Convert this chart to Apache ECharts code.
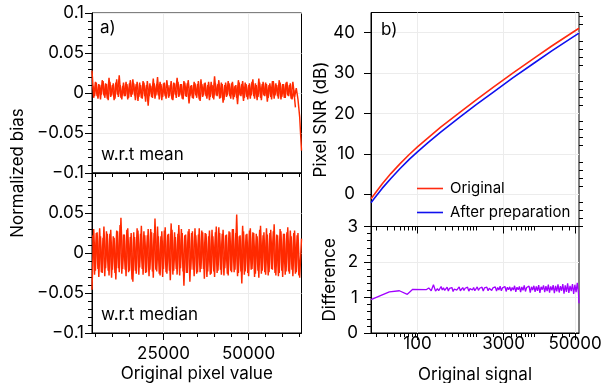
<!DOCTYPE html>
<html><head><meta charset="utf-8">
<script src="https://cdn.jsdelivr.net/npm/echarts@6/dist/echarts.min.js"></script>
<style>html,body{margin:0;padding:0;background:#fff}#c{width:610px;height:383px}</style>
</head><body><div id="c"></div>
<script>
// ---- data ----
// bias samples at pixel values 4000, 4500, ... (set A) and 4250, 4750, ... (set B)
const biasX = [4000,4500,5000,5500,6000,6500,7000,7500,8000,8500,
9000,9500,10000,10500,11000,11500,12000,12500,13000,13500,
14000,14500,15000,15500,16000,16500,17000,17500,18000,18500,
19000,19500,20000,20500,21000,21500,22000,22500,23000,23500,
24000,24500,25000,25500,26000,26500,27000,27500,28000,28500,
29000,29500,30000,30500,31000,31500,32000,32500,33000,33500,
34000,34500,35000,35500,36000,36500,37000,37500,38000,38500,
39000,39500,40000,40500,41000,41500,42000,42500,43000,43500,
44000,44500,45000,45500,46000,46500,47000,47500,48000,48500,
49000,49500,50000,50500,51000,51500,52000,52500,53000,53500,
54000,54500,55000,55500,56000,56500,57000,57500,58000,58500,
59000,59500,60000,60500,61000,61500,62000,62500,63000,63500,
64000,64500,65000,65535];
const biasMean = [0.028,-0.006,0.014,-0.004,0.011,-0.008,0.016,-0.003,0.012,-0.007,
0.019,-0.005,0.010,-0.009,0.013,-0.002,0.022,-0.006,0.009,-0.004,
0.014,-0.008,0.012,-0.005,0.017,-0.003,0.011,-0.010,0.013,-0.006,
0.015,-0.004,0.010,-0.016,0.012,-0.005,0.018,-0.007,0.011,-0.003,
0.014,-0.009,0.012,-0.004,0.016,-0.006,0.010,-0.008,0.013,-0.002,
0.019,-0.005,0.011,-0.007,0.015,-0.004,0.012,-0.013,0.009,-0.006,
0.014,-0.003,0.011,-0.008,0.017,-0.005,0.012,-0.004,0.010,-0.009,
0.014,-0.006,0.021,-0.003,0.011,-0.007,0.013,-0.012,0.010,-0.005,
0.015,-0.004,0.012,-0.008,0.009,-0.006,0.016,-0.003,0.011,-0.010,
0.013,-0.005,0.010,-0.007,0.014,-0.004,0.012,-0.009,0.018,-0.006,
0.011,-0.003,0.013,-0.011,0.010,-0.005,0.015,-0.007,0.012,-0.004,
0.016,-0.008,0.011,-0.006,0.013,-0.003,0.010,-0.007,0.014,-0.005,
0.006,-0.008,-0.030,-0.072];
const biasMedian = [-0.046,0.030,-0.022,0.026,-0.030,0.021,-0.025,0.033,-0.019,0.024,
-0.028,0.029,-0.021,0.019,-0.033,0.027,-0.024,0.044,-0.020,0.023,
-0.029,0.031,-0.022,0.025,-0.036,0.020,-0.026,0.028,-0.018,0.034,
-0.027,0.022,-0.024,0.030,-0.021,0.026,-0.031,0.043,-0.023,0.021,
-0.028,0.027,-0.020,0.032,-0.026,0.024,-0.034,0.029,-0.022,0.020,
-0.027,0.035,-0.019,0.025,-0.041,0.023,-0.025,0.030,-0.021,0.027,
-0.029,0.022,-0.024,0.031,-0.020,0.026,-0.032,0.024,-0.023,0.028,
-0.026,0.021,-0.030,0.033,-0.022,0.025,-0.027,0.029,-0.019,0.023,
-0.028,0.026,-0.024,0.030,-0.021,0.048,-0.025,0.022,-0.038,0.027,
-0.023,0.024,-0.029,0.031,-0.020,0.025,-0.026,0.021,-0.031,0.034,
-0.022,0.026,-0.027,0.023,-0.024,0.029,-0.021,0.036,-0.028,0.022,
-0.025,0.027,-0.030,0.024,-0.023,0.032,-0.026,0.021,-0.029,0.028,
-0.024,0.025,-0.031,0.018];

const biasX2 = [4250,4750,5250,5750,6250,6750,7250,7750,8250,8750,
9250,9750,10250,10750,11250,11750,12250,12750,13250,13750,
14250,14750,15250,15750,16250,16750,17250,17750,18250,18750,
19250,19750,20250,20750,21250,21750,22250,22750,23250,23750,
24250,24750,25250,25750,26250,26750,27250,27750,28250,28750,
29250,29750,30250,30750,31250,31750,32250,32750,33250,33750,
34250,34750,35250,35750,36250,36750,37250,37750,38250,38750,
39250,39750,40250,40750,41250,41750,42250,42750,43250,43750,
44250,44750,45250,45750,46250,46750,47250,47750,48250,48750,
49250,49750,50250,50750,51250,51750,52250,52750,53250,53750,
54250,54750,55250,55750,56250,56750,57250,57750,58250,58750,
59250,59750,60250,60750,61250,61750,62250,62750,63250,63750,
64250,64750];
const biasMean2 = [0.009,-0.004,0.013,-0.007,0.010,-0.002,0.015,-0.006,0.011,-0.009,
0.014,-0.003,0.012,-0.007,0.017,-0.005,0.010,-0.008,0.013,-0.004,
0.011,-0.006,0.016,-0.002,0.012,-0.009,0.014,-0.005,0.010,-0.007,
0.013,-0.011,0.015,-0.004,0.009,-0.006,0.012,-0.003,0.020,-0.008,
0.011,-0.005,0.013,-0.007,0.010,-0.004,0.015,-0.009,0.012,-0.006,
0.014,-0.003,0.011,-0.008,0.013,-0.005,0.016,-0.004,0.010,-0.007,
0.012,-0.006,0.015,-0.010,0.011,-0.003,0.013,-0.007,0.014,-0.005,
0.010,-0.008,0.012,-0.004,0.016,-0.006,0.011,-0.009,0.013,-0.003,
0.012,-0.007,0.014,-0.005,0.010,-0.014,0.013,-0.004,0.015,-0.006,
0.011,-0.008,0.012,-0.003,0.017,-0.007,0.010,-0.005,0.013,-0.009,
0.014,-0.004,0.011,-0.006,0.012,-0.008,0.015,-0.003,0.010,-0.007,
0.013,-0.005,0.011,-0.006,0.014,-0.004,0.012,-0.008,0.004,-0.018];
const biasMedian2 = [0.022,-0.027,0.025,-0.020,0.031,-0.024,0.019,-0.029,0.027,-0.022,
0.024,-0.031,0.021,-0.025,0.028,-0.019,0.035,-0.026,0.023,-0.021,
0.029,-0.024,0.020,-0.033,0.026,-0.022,0.031,-0.027,0.024,-0.020,
0.027,-0.025,0.022,-0.029,0.030,-0.023,0.025,-0.021,0.033,-0.026,
0.021,-0.030,0.028,-0.024,0.023,-0.022,0.037,-0.027,0.026,-0.020,
0.024,-0.028,0.030,-0.023,0.022,-0.025,0.027,-0.036,0.025,-0.021,
0.031,-0.026,0.023,-0.024,0.028,-0.020,0.025,-0.030,0.021,-0.027,
0.029,-0.023,0.026,-0.025,0.032,-0.021,0.024,-0.028,0.022,-0.026,
0.027,-0.022,0.030,-0.024,0.025,-0.029,0.021,-0.023,0.034,-0.027,
0.023,-0.025,0.028,-0.021,0.026,-0.030,0.024,-0.022,0.029,-0.026,
0.022,-0.024,0.031,-0.028,0.025,-0.020,0.027,-0.025,0.023,-0.029,
0.030,-0.022,0.024,-0.027,0.026,-0.023,0.028,-0.021,0.025,-0.026,
0.022,-0.028];

const snrX = [16,18.3,25,35,50,73,100,150,250,525,1000,2000,4290,10000,20000,45800,58500];
const snrOriginal = [-1.1,0,2.6,5.1,7.5,9.9,11.7,13.9,16.6,20.2,23.3,26.5,30,33.7,36.7,40.1,41.1];
const snrPrepared = [-2.1,-1.0,1.5,3.9,6.3,8.7,10.5,12.7,15.4,19.0,22.1,25.3,28.8,32.5,35.5,38.9,39.9];

const diffX = [16,33,49,67,83,141,156,172,188,204,
220,231,242,254,266,279,293,307,322,338,354,371,389,408,428,449,471,494,518,543,
569,597,626,656,688,722,757,794,833,873,916,960,1007,1056,1107,1161,1218,1277,1339,1404,
1473,1544,1620,1698,1781,1868,1959,2054,2154,2259,2369,2484,2605,2732,2865,3005,3151,3305,3466,3634,
3811,3997,4191,4396,4610,4834,5070,5316,5575,5847,6132,6430,6743,7072,7416,7777,8156,8553,8970,9407,
9865,10345,10849,11377,11931,12512,13122,13761,14431,15134,15871,16644,17455,18305,19197,20132,21112,22140,23219,24350,
25536,26780,28084,29452,30887,32391,33969,35624,37359,39179,41087,43088,45187,47388,49697,52117,54656,57318,58500];
const diffValues = [0.94,1.16,1.19,1.09,1.23,1.22,1.27,1.19,1.36,1.18,
1.25,1.19,1.23,1.31,1.21,1.27,1.20,1.24,1.29,1.18,1.26,1.22,1.28,1.17,1.24,1.27,1.21,1.25,1.30,1.19,
1.23,1.28,1.20,1.26,1.22,1.29,1.18,1.25,1.27,1.21,1.28,1.19,1.24,1.30,1.20,1.26,1.23,1.29,1.18,1.27,
1.22,1.29,1.19,1.26,1.31,1.20,1.27,1.23,1.30,1.18,1.28,1.21,1.32,1.19,1.27,1.24,1.31,1.17,1.29,1.22,
1.30,1.18,1.28,1.21,1.33,1.16,1.29,1.22,1.31,1.15,1.30,1.20,1.34,1.17,1.28,1.23,1.32,1.14,1.30,1.21,
1.33,1.16,1.31,1.19,1.35,1.13,1.30,1.22,1.34,1.15,1.32,1.18,1.36,1.14,1.31,1.20,1.35,1.12,1.33,1.17,
1.37,1.14,1.32,1.19,1.38,1.11,1.34,1.16,1.40,1.13,1.33,1.18,1.38,1.10,1.36,1.15,1.41,1.12,0.84];

const pixelTickLabels = [25000, 50000];
const pixelMinorTicks = [5000,10000,15000,20000,30000,35000,40000,45000,55000,60000,65000];
const signalTickLabels = [100, 3000, 50000];
const signalMinorTicks = [20,30,40,50,60,70,80,90,200,300,400,500,600,700,800,900,
1000,2000,4000,5000,6000,7000,8000,9000,10000,20000,30000,40000];
const snrTickLabels = [0, 10, 20, 30, 40];
const snrMinorTicks = [-8,-6,-4,-2,2,4,6,8,12,14,16,18,22,24,26,28,32,34,36,38,42,44];

// ---- chart ----
const FONT = 'Inter';
const BLACK = '#000';
const GRIDLINE = '#ececec';
const RED = '#ff2a00';
const minus = v => (v < 0 ? '\u2212' : '') + Math.abs(v);
const plain = v => String(v);
const pair = (xs, ys) => xs.map((x, i) => [x, ys[i]]);

function gridDef(left, top, width, height) {
  return {left, top, width, height, show: true, borderColor: BLACK, borderWidth: 1,
    backgroundColor: 'transparent', containLabel: false, outerBoundsMode: 'none'};
}
const lbl = (extra) => Object.assign({color: BLACK, fontSize: 17, fontFamily: FONT}, extra);

function mainX(gridIndex, type, min, max, labelVals, showLabels, labelMargin, name, nameGap) {
  return {
    type, gridIndex, min, max, position: 'bottom',
    name: name || '', nameLocation: 'middle', nameGap: nameGap || 30,
    nameTextStyle: {color: BLACK, fontSize: 17, fontFamily: FONT},
    axisLine: {show: true, onZero: false, lineStyle: {color: BLACK, width: 1}},
    axisTick: {show: true, inside: false, length: 7, customValues: labelVals, lineStyle: {color: BLACK}},
    axisLabel: lbl({show: showLabels, customValues: labelVals, margin: labelMargin, formatter: plain}),
    splitLine: {show: true, lineStyle: {color: GRIDLINE, width: 1}},
    minorTick: {show: false}
  };
}
function minorX(gridIndex, type, min, max, vals) {
  return {
    type, gridIndex, min, max, position: 'bottom',
    axisLine: {show: false, onZero: false},
    axisTick: {show: true, inside: false, length: 4, customValues: vals, lineStyle: {color: BLACK}},
    axisLabel: {show: false, customValues: vals},
    splitLine: {show: false}
  };
}
function noise(name, xi, yi, xs, ys) {
  return {type: 'line', name, xAxisIndex: xi, yAxisIndex: yi, data: pair(xs, ys),
    showSymbol: false, symbol: 'none', lineStyle: {color: RED, width: 1.45}, z: 3};
}

const option = {
  animation: false,
  textStyle: {fontFamily: FONT},
  grid: [
    gridDef(92, 13, 209.5, 160),
    gridDef(92, 173, 209.5, 160),
    gridDef(371, 12.5, 208, 214),
    gridDef(371, 226.5, 208, 106.5)
  ],
  xAxis: [
    mainX(0, 'value', 4000, 65535, pixelTickLabels, false, 12),
    minorX(0, 'value', 4000, 65535, pixelMinorTicks),
    mainX(1, 'value', 4000, 65535, pixelTickLabels, true, 12, 'Original pixel value', 32),
    minorX(1, 'value', 4000, 65535, pixelMinorTicks),
    mainX(2, 'log', 16, 58500, signalTickLabels, false, 2),
    minorX(2, 'log', 16, 58500, signalMinorTicks),
    mainX(3, 'log', 16, 58500, signalTickLabels, true, 2, 'Original signal', 33),
    minorX(3, 'log', 16, 58500, signalMinorTicks)
  ],
  yAxis: [
    {type: 'value', gridIndex: 0, min: -0.1, max: 0.1, interval: 0.05,
      axisLine: {show: true, onZero: false, lineStyle: {color: BLACK}},
      axisTick: {show: true, length: 7, lineStyle: {color: BLACK}},
      minorTick: {show: true, splitNumber: 5, length: 4, lineStyle: {color: BLACK}},
      axisLabel: lbl({margin: 8, formatter: minus}),
      splitLine: {show: true, lineStyle: {color: GRIDLINE}}},
    {type: 'value', gridIndex: 1, min: -0.1, max: 0.1, interval: 0.05,
      axisLine: {show: true, onZero: false, lineStyle: {color: BLACK}},
      axisTick: {show: true, length: 7, lineStyle: {color: BLACK}},
      minorTick: {show: true, splitNumber: 5, length: 4, lineStyle: {color: BLACK}},
      axisLabel: lbl({margin: 8, formatter: minus, showMaxLabel: false}),
      splitLine: {show: true, lineStyle: {color: GRIDLINE}}},
    {type: 'value', gridIndex: 2, min: -8, max: 45,
      name: 'Pixel SNR (dB)', nameLocation: 'middle', nameGap: 39,
      nameTextStyle: {color: BLACK, fontSize: 17, fontFamily: FONT},
      axisLine: {show: true, onZero: false, lineStyle: {color: BLACK}},
      axisTick: {show: true, length: 7, customValues: snrTickLabels, lineStyle: {color: BLACK}},
      axisLabel: lbl({margin: 16, customValues: snrTickLabels, formatter: minus}),
      splitLine: {show: true, lineStyle: {color: GRIDLINE}}},
    {type: 'value', gridIndex: 2, min: -8, max: 45,
      axisLine: {show: false, onZero: false},
      axisTick: {show: true, length: 4, customValues: snrMinorTicks, lineStyle: {color: BLACK}},
      axisLabel: {show: false, customValues: snrMinorTicks},
      splitLine: {show: false}},
    {type: 'value', gridIndex: 3, min: 0, max: 3, interval: 1,
      name: 'Difference', nameLocation: 'middle', nameGap: 33,
      nameTextStyle: {color: BLACK, fontSize: 17, fontFamily: FONT},
      axisLine: {show: true, onZero: false, lineStyle: {color: BLACK}},
      axisTick: {show: true, length: 7, lineStyle: {color: BLACK}},
      minorTick: {show: true, splitNumber: 5, length: 4, lineStyle: {color: BLACK}},
      axisLabel: lbl({margin: 13}),
      splitLine: {show: true, lineStyle: {color: GRIDLINE}}}
  ],
  legend: {
    data: ['Original', 'After preparation'],
    orient: 'vertical', left: 417, top: 181, itemGap: 9,
    icon: 'rect', itemWidth: 26, itemHeight: 1.6, padding: 0,
    textStyle: {color: BLACK, fontSize: 15, fontFamily: FONT, padding: [0, 0, 0, 2]}
  },
  graphic: [
    {type: 'text', left: 100, top: 19, z: 100, style: {text: 'a)', fill: BLACK, font: '17px ' + FONT}},
    {type: 'text', left: 101, top: 146, z: 100, style: {text: 'w.r.t mean', fill: BLACK, font: '17px ' + FONT}},
    {type: 'text', left: 101, top: 306, z: 100, style: {text: 'w.r.t median', fill: BLACK, font: '17px ' + FONT}},
    {type: 'text', left: 381, top: 21, z: 100, style: {text: 'b)', fill: BLACK, font: '17px ' + FONT}},
    {type: 'text', x: 18, y: 173, rotation: Math.PI / 2, z: 100,
      style: {text: 'Normalized bias', fill: BLACK, font: '17px ' + FONT, align: 'center', verticalAlign: 'middle'}}
  ],
  series: [
    noise('mean', 0, 0, biasX, biasMean),
    noise('mean B', 0, 0, biasX2, biasMean2),
    noise('median', 2, 1, biasX, biasMedian),
    noise('median B', 2, 1, biasX2, biasMedian2),
    {type: 'line', name: 'Original', xAxisIndex: 4, yAxisIndex: 2, data: pair(snrX, snrOriginal),
      showSymbol: false, symbol: 'none', color: '#ff2a10', itemStyle: {color: '#ff2a10'}, lineStyle: {color: '#ff2a10', width: 1.6}, z: 3},
    {type: 'line', name: 'After preparation', xAxisIndex: 4, yAxisIndex: 2, data: pair(snrX, snrPrepared),
      showSymbol: false, symbol: 'none', color: '#1010ee', itemStyle: {color: '#1010ee'}, lineStyle: {color: '#1010ee', width: 1.6}, z: 3},
    {type: 'line', name: 'diff', xAxisIndex: 6, yAxisIndex: 4, data: pair(diffX, diffValues),
      showSymbol: false, symbol: 'none', lineStyle: {color: '#a100ff', width: 1.3}, z: 3}
  ]
};
const chart = echarts.init(document.getElementById('c'), null, {renderer: 'canvas'});
chart.setOption(option);
</script>
</body></html>
